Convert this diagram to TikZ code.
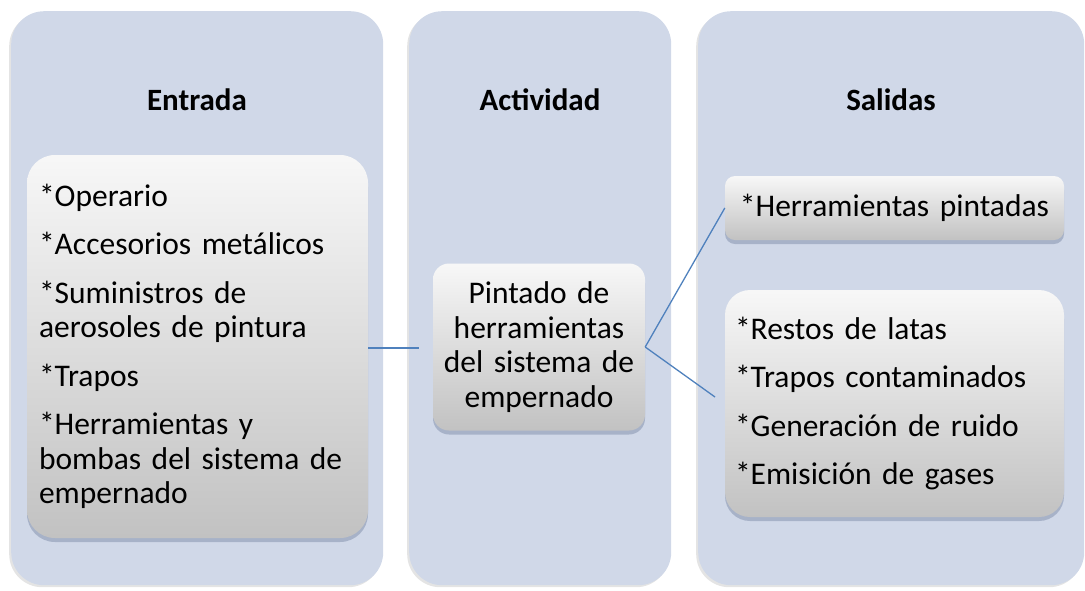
\documentclass[tikz,border=0pt]{standalone}
\usepackage{fontspec}
\setmainfont{Carlito}
\usetikzlibrary{shadows}
\definecolor{colfill}{HTML}{D0D8E8}
\definecolor{connc}{HTML}{4F81BD}
\definecolor{shadc}{HTML}{97A3BB}
\tikzset{
  column/.style={fill=colfill, draw=none, rounded corners=33pt, inner sep=0pt,
    anchor=north west,
    drop shadow={shadow xshift=-2pt, shadow yshift=-2pt, fill=black!30, opacity=0.35}},
  coltitle/.style={font=\fontsize{31}{34}\selectfont\bfseries, inner sep=0pt},
  itembox/.style={top color=white!97!black, bottom color=black!24, draw=none,
    drop shadow={shadow xshift=0pt, shadow yshift=-4pt, fill=shadc, opacity=0.7},
    font=\fontsize{31.5}{34.5}\selectfont, inner ysep=0pt},
  connector/.style={draw=connc, line width=1.3pt}
}
\begin{document}
\begin{tikzpicture}[x=1pt,y=-1pt]
\useasboundingbox (0,0) rectangle (1085,590);
% columns
\node[column, minimum width=372pt, minimum height=574pt] (c1) at (11,11) {};
\node[column, minimum width=262pt, minimum height=574pt] (c2) at (409,11) {};
\node[column, minimum width=386pt, minimum height=574pt] (c3) at (698,11) {};
% titles
\node[coltitle] (t1) at (197,100) {Entrada};
\node[coltitle] (t2) at (540,100) {Actividad};
\node[coltitle] (t3) at (891,100) {Salidas};
% boxes
\node[itembox, rounded corners=28pt, minimum width=341pt, minimum height=383pt,
  inner xsep=12pt, text width=317pt, align=left] (in) at (197.5,346.5)
  {*Operario\\[14pt]*Accesorios metálicos\\[14pt]*Suministros de\\aerosoles de pintura\\[14pt]*Trapos\\[14pt]*Herramientas y\\bombas del sistema de\\empernado};
\node[itembox, rounded corners=16pt, minimum width=212pt, minimum height=167pt,
  inner xsep=6pt, text width=200pt, align=center] (act) at (539,347)
  {Pintado de\\herramientas\\del sistema de\\empernado};
\node[itembox, rounded corners=10pt, minimum width=339pt, minimum height=64pt,
  inner xsep=10pt, text width=319pt, align=center] (o1) at (894.5,208)
  {*Herramientas pintadas};
\node[itembox, rounded corners=25pt, minimum width=339pt, minimum height=227pt,
  inner xsep=10pt, text width=319pt, align=left] (o2) at (894.5,403.5)
  {*Restos de latas\\[14pt]*Trapos contaminados\\[14pt]*Generación de ruido\\[14pt]*Emisición de gases};
% connectors
\coordinate (e1) at (419,348);
\coordinate (e2) at (715,397);
\draw[connector] (in.east |- e1) -- (e1);
\draw[connector] (act.east) -- (o1.west);
\draw[connector] (act.east) -- (e2);
\end{tikzpicture}
\end{document}
